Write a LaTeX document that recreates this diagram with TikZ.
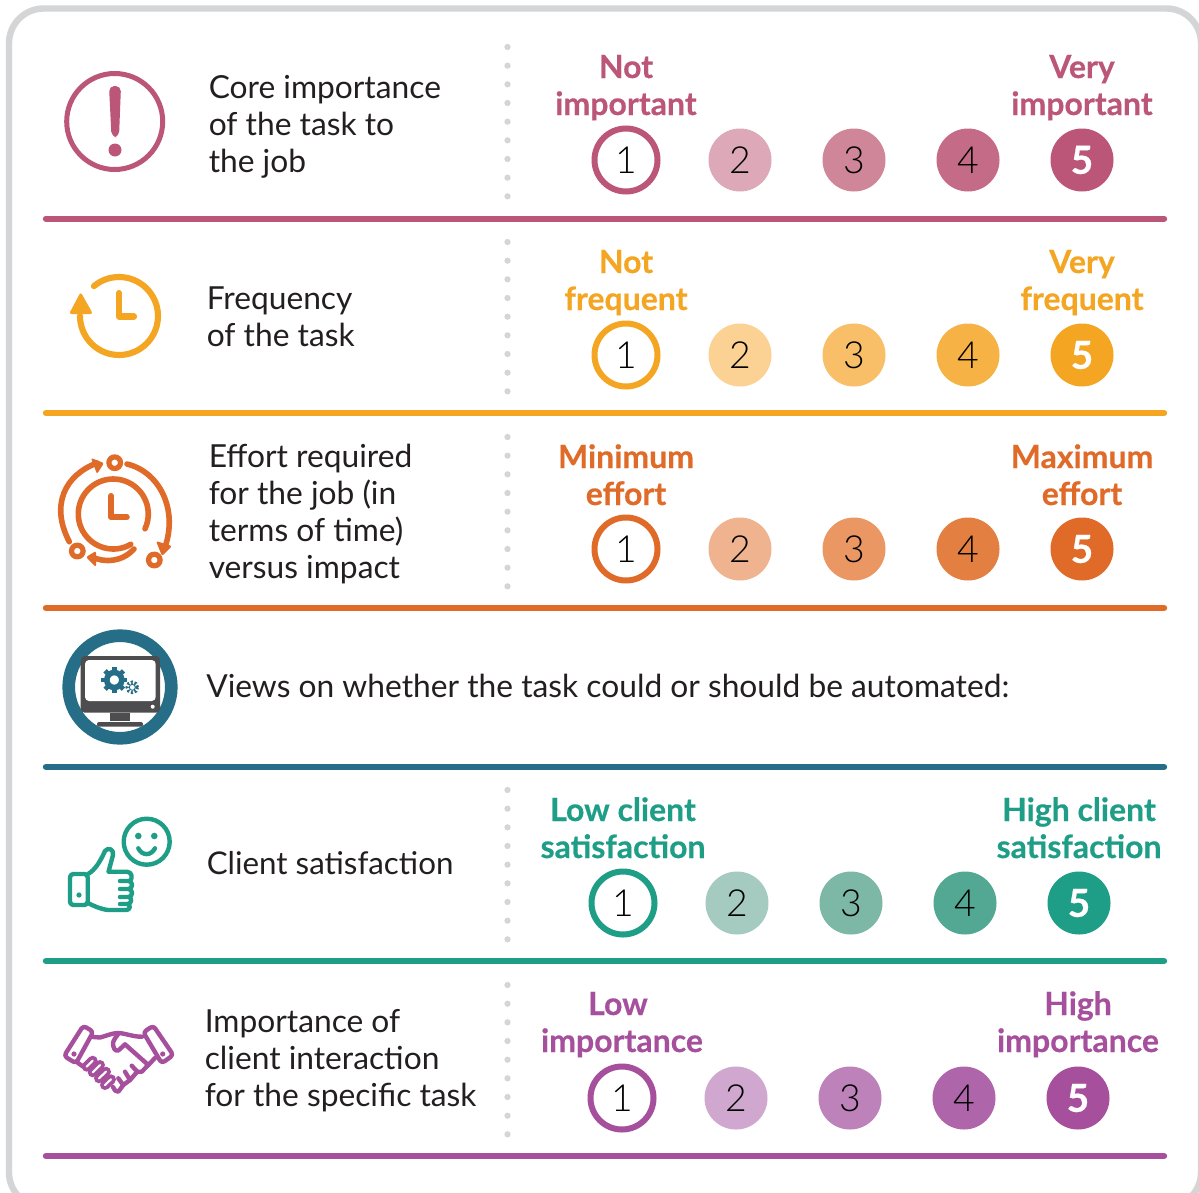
\documentclass[tikz,border=0pt]{standalone}
\usepackage{fontspec}
\setmainfont{Lato}
\newfontfamily\headfont[FakeBold=0.4]{Lato Bold}
\newfontfamily\lightfont{Lato Light}
\newfontfamily\boldfont[FakeBold=0.6]{Lato Bold}
\usetikzlibrary{calc}
\definecolor{cA}{HTML}{BC5679}
\definecolor{cAb}{HTML}{DDA9B8}
\definecolor{cAc}{HTML}{CF8699}
\definecolor{cAd}{HTML}{C46B88}
\definecolor{cB}{HTML}{F4A522}
\definecolor{cBb}{HTML}{FBD294}
\definecolor{cBc}{HTML}{F9BF68}
\definecolor{cBd}{HTML}{F6B244}
\definecolor{cC}{HTML}{E06A27}
\definecolor{cCb}{HTML}{F0B38F}
\definecolor{cCc}{HTML}{EA9763}
\definecolor{cCd}{HTML}{E37F40}
\definecolor{cD}{HTML}{266E87}
\definecolor{cE}{HTML}{1F9E87}
\definecolor{cEb}{HTML}{A5CBC0}
\definecolor{cEc}{HTML}{7DB7A6}
\definecolor{cEd}{HTML}{52A893}
\definecolor{cF}{HTML}{A64F9C}
\definecolor{cFb}{HTML}{CFA7CF}
\definecolor{cFc}{HTML}{BC82B9}
\definecolor{cFd}{HTML}{AF65A9}
\definecolor{ink}{HTML}{231F20}
\definecolor{frame}{HTML}{D4D5D6}
\definecolor{screen}{HTML}{4D4D4F}
\tikzset{
  body/.style={anchor=west,align=left,text=ink,font=\fontsize{23.8}{27.7}\selectfont,inner sep=0pt},
  head/.style={anchor=base,font=\fontsize{24}{27.7}\selectfont\headfont,inner sep=0pt},
  rate/.style={circle,minimum size=47.25pt,inner sep=0pt,font=\fontsize{28}{28}\selectfont\lightfont,text=black},
  rule/.style={line width=4.8pt,line cap=round},
  dots/.style={line width=4.7pt,color=frame,line cap=round,dash pattern=on 0pt off 14pt},
  ico/.style={line cap=round,line join=round}
}
% #1 colour, #2 circle-1 x, #3 y, #4 dots top, #5 rule y
\newcommand{\ratingrow}[5]{%
  \node[rate,draw=#1,line width=4.5pt] (r1) at (#2,#3) {1};
  \node[rate,fill=#1b] (r2) at ($(#2,#3)+(114,0)$) {2};
  \node[rate,fill=#1c] (r3) at ($(#2,#3)+(228,0)$) {3};
  \node[rate,fill=#1d] (r4) at ($(#2,#3)+(342,0)$) {4};
  \node[rate,fill=#1,text=white,font=\fontsize{29}{29}\selectfont\boldfont] (r5) at ($(#2,#3)+(456,0)$) {5};
  \draw[dots] (507.5,#4) -- (507.5,#4+150);
  \draw[rule,#1] (46,#5) -- (1164,#5);
}
\begin{document}
\begin{tikzpicture}[x=0.75pt,y=-0.75pt]
\useasboundingbox (0,0) rectangle (1199,1192);
\fill[white] (0,0) rectangle (1199,1192);
% frame
\begin{scope}
\clip (0,0) rectangle (1199,1192);
\draw[frame,line width=4.8pt,rounded corners=26pt] (9,8.5) rectangle (1201,1207);
\end{scope}

% --- rows
\ratingrow{cA}{626}{160}{47}{218.7}
\node[head,text=cA] at (626,78) {Not};
\node[head,text=cA] at (626,115) {important};
\node[head,text=cA] at (1082,78) {Very};
\node[head,text=cA] at (1082,115) {important};
\ratingrow{cB}{626}{355}{242}{413}
\node[head,text=cB] at (626,273) {Not};
\node[head,text=cB] at (626,310) {frequent};
\node[head,text=cB] at (1082,273) {Very};
\node[head,text=cB] at (1082,310) {frequent};
\ratingrow{cC}{626}{549}{437}{608}
\node[head,text=cC] at (626,468) {Minimum};
\node[head,text=cC] at (626,505) {effort};
\node[head,text=cC] at (1082,468) {Maximum};
\node[head,text=cC] at (1082,505) {effort};
\draw[rule,cD] (46,767) -- (1164,767);
\ratingrow{cE}{623}{903}{790}{961}
\node[head,text=cE] at (623,821) {Low client};
\node[head,text=cE] at (623,858) {satisfaction};
\node[head,text=cE] at (1079,821) {High client};
\node[head,text=cE] at (1079,858) {satisfaction};
\ratingrow{cF}{622}{1098}{985}{1156}
\node[head,text=cF] at (618,1015) {Low};
\node[head,text=cF] at (622,1052) {importance};
\node[head,text=cF] at (1078,1015) {High};
\node[head,text=cF] at (1078,1052) {importance};

% --- body text
\node[body] (t1) at (208.5,127) {Core importance\\of the task to\\the job};
\node[body] (t2) at (206.5,317) {Frequency\\of the task};
\node[body] (t3) at (208.5,514) {Effort required\\for the job (in\\terms of time)\\versus impact};
\node[body] (t4) at (206,686) {Views on whether the task could or should be automated:};
\node[body,font=\fontsize{23.5}{27.7}\selectfont] (t5) at (206.5,863) {Client satisfaction};
\node[body] (t6) at (204.5,1061) {Importance of\\client interaction\\for the specific task};

% --- icon 1: exclamation
\draw[cA,line width=3.75pt] (114.7,121.5) circle[radius=48];
\fill[cA,rounded corners=4pt] (109,86) -- (121,86) -- (119,137) -- (111.5,137) -- cycle;
\fill[cA] (115,150) circle[radius=6.5];

% --- icon 2: clock back
\begin{scope}[ico,cB,line width=4.6pt]
\draw (119,316) ++(-130:39) arc[start angle=-130,end angle=180,radius=39];
\draw (119,293) -- (119,316.5) -- (134,316.5);
\end{scope}
\fill[cB,rounded corners=2pt] (69,314) -- (80.7,292) -- (93,314) -- cycle;

% --- icon 3: cycle clock
\begin{scope}[ico,cC,line width=4.2pt]
\draw (113.3,514) ++(60:35) arc[start angle=60,end angle=385,radius=35];
\draw[line width=4.6pt] (111,496) -- (111,517.3) -- (126.7,517.3);
\draw (69.3,541.7) .. controls (50,505) and (65,475) .. (97,463);
\draw (127,464) .. controls (160,472) and (178,510) .. (165,547);
\draw (134,549) .. controls (122,562) and (105,563) .. (92,557);
\end{scope}
\fill[cC,rounded corners=1.5pt] (91,458) -- (104,463) -- (97,474) -- cycle;
\fill[cC,rounded corners=1.5pt] (172,546) -- (162,556) -- (156,541) -- cycle;
\fill[cC,rounded corners=1.5pt] (86,557) -- (96,551) -- (96,567) -- cycle;
\draw[cC,line width=3.9pt] (114.7,462.7) circle[radius=5.8];
\draw[cC,line width=3.9pt] (154.3,560) circle[radius=5.8];
\draw[cC,line width=3.9pt] (77.3,551) circle[radius=5.8];

% --- icon 4: monitor
\draw[cD,line width=9.5pt] (120,687) circle[radius=51.3];
\fill[screen,rounded corners=3pt] (80.7,656) rectangle (160,712.7);
\fill[white,rounded corners=3pt] (85,660) rectangle (155.7,701);
\fill[screen] (110,712.7) rectangle (130,721);
\fill[screen,rounded corners=1.5pt] (97,722) rectangle (143,726.7);
\fill[white] (152.7,706.7) circle[radius=2];
\draw[cD,line width=4.2pt] (114.3,680) circle[radius=7.5];
\foreach \a in {0,45,...,315} \draw[cD,line width=3.5pt] (114.3,680) ++(\a:9.5) -- ++(\a:3.5);
\draw[cD,line width=0.7pt] (132.3,687.3) circle[radius=3];
\draw[cD,line width=2.4pt,dash pattern=on 1.4pt off 1.4pt] (132.3,687.3) circle[radius=5.2];

% --- icon 5: thumb and smile
\begin{scope}[ico,cE,line width=3.3pt]
\draw (146.7,841.7) circle[radius=23];
\draw (138.3,848.3) .. controls (142,856) and (151,856) .. (155,848.3);
\draw[rounded corners=2.5pt] (70,874) -- (87.7,874) -- (87.7,905) -- (70,905) -- cycle;
\draw (88,874) .. controls (95,870) and (100,862) .. (105,851) .. controls (108,847) and (114,849) .. (113,855) -- (108.5,871.7) -- (127,871.7) .. controls (132,872) and (133,878) .. (130,881);
\draw (120,881) -- (129,881) .. controls (133,882) and (133,888) .. (129,889) -- (120,889);
\draw (129,889) .. controls (133,890) and (133,896) .. (129,897) -- (120,897);
\draw (129,897) .. controls (132,898) and (132,903) .. (128,904) -- (120,904);
\draw (128,904) .. controls (131,906) and (130,910) .. (126,910) -- (108,910) .. controls (100,909) and (94,906) .. (88,903);
\end{scope}
\fill[cE] (79,895) circle[radius=2.6];
\fill[cE] (138.3,836) circle[radius=3.3];
\fill[cE] (154.3,836) circle[radius=3.3];

% --- icon 6: handshake
\begin{scope}[ico,cF,line width=3.3pt]
\draw[rounded corners=2.5pt] (83.3,1025.7) -- (93.3,1031.7) -- (76,1063.3) -- (64,1056) -- cycle;
\draw[rounded corners=2.5pt] (153.3,1025.7) -- (143.3,1032.3) -- (161.7,1063.3) -- (173.3,1055) -- cycle;
\draw (93.3,1037) -- (100,1037.5) .. controls (106,1036) and (112,1033) .. (118.3,1033) .. controls (124,1033) and (134,1037) .. (142,1036.7);
\draw (118.3,1034) .. controls (114,1039) and (112,1043) .. (113.3,1046) .. controls (114,1051) and (118,1052) .. (120,1049) -- (125,1044.3) -- (148.3,1065);
\draw (148.3,1065) -- (155,1058);
\draw (148.3,1065) -- (141.7,1071.7) -- (137.3,1071.7) -- (131.7,1065.7);
\draw (137.3,1071.7) -- (130,1080) -- (125,1071.7);
\draw (130,1080) -- (123.3,1085) -- (118.3,1078.3);
\draw (123.3,1085) -- (118.3,1091.7) .. controls (116,1092) and (114,1090) .. (113,1087);
\draw (78,1063) -- (83.3,1066.7);
\end{scope}
\foreach \sa/\sb in {{(86.7,1066.7)/(92.7,1060.7)},{(92.7,1072.3)/(100,1065)},{(99,1078.3)/(106,1071.7)},{(105,1085)/(111,1079.3)}}{
  \draw[cF,line width=7.5pt,line cap=round] \sa -- \sb;
  \draw[white,line width=1.6pt,line cap=round] \sa -- \sb;
}
\fill[cF] (74,1054) circle[radius=2.6];
\fill[cF] (162.7,1054) circle[radius=2.6];
\end{tikzpicture}
\end{document}
